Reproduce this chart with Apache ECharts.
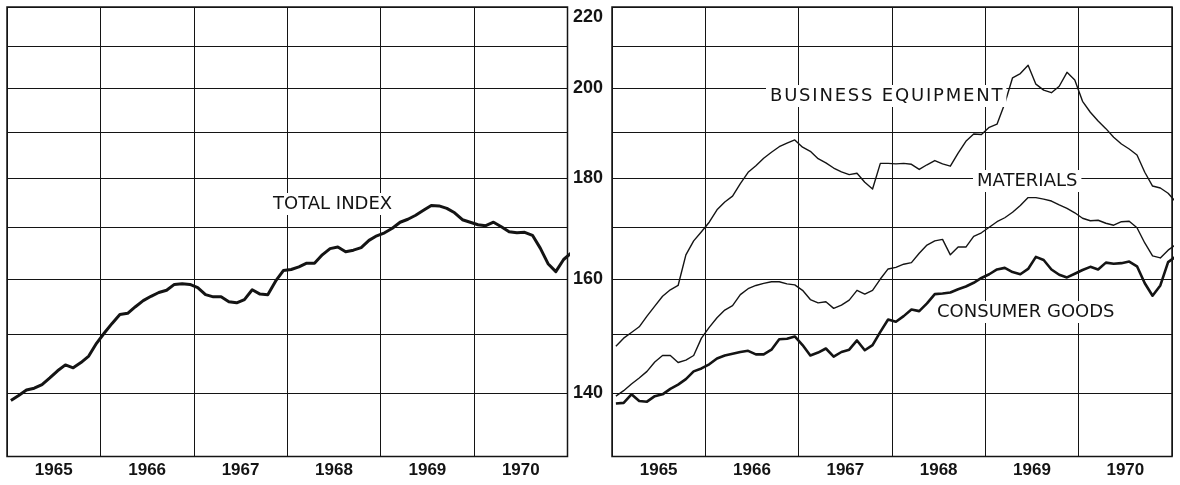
<!DOCTYPE html>
<html>
<head>
<meta charset="utf-8">
<script src="https://cdn.jsdelivr.net/npm/echarts@6/dist/echarts.min.js"></script>
<style>
  html, body { margin: 0; padding: 0; background: #fff; }
  #chart { width: 1180px; height: 485px; }
</style>
</head>
<body>
<div id="chart"></div>
<script>
// monthly index values from Jan 1965, ratio scale
var years = ['1965', '1966', '1967', '1968', '1969', '1970'];
var gridValues = [130, 140, 150, 160, 170, 180, 190, 200, 210, 220];
var scaleLabels = [140, 160, 180, 200, 220];

var totalIndex = [
  138.8, 139.6, 140.5, 140.8, 141.4, 142.5, 143.7, 144.7, 144.2, 145.1, 146.2, 148.4,
  150.2, 151.9, 153.5, 153.7, 154.9, 156.0, 156.8, 157.5, 157.9, 159.0, 159.1, 159.0,
  158.4, 157.1, 156.7, 156.7, 155.8, 155.6, 156.2, 158.0, 157.2, 157.1, 159.6, 161.6,
  161.8, 162.3, 163.0, 163.0, 164.6, 165.8, 166.1, 165.2, 165.5, 166.0, 167.4, 168.3,
  168.9, 169.8, 171.0, 171.6, 172.4, 173.4, 174.4, 174.3, 173.8, 172.9, 171.5, 171.0,
  170.5, 170.3, 171.0, 170.1, 169.1, 168.9, 169.0, 168.4, 165.9, 162.9, 161.4, 163.7,
  165.0, 164.9
];
var businessEquipment = [
  147.9, 149.3, 150.3, 151.3, 153.2, 155.0, 156.8, 158.0, 158.8, 164.6, 167.3, 169.1,
  171.0, 173.5, 175.1, 176.3, 178.9, 181.3, 182.7, 184.3, 185.6, 186.8, 187.6, 188.3,
  186.7, 185.8, 184.2, 183.3, 182.2, 181.4, 180.8, 181.1, 179.2, 177.8, 183.2, 183.2,
  183.1, 183.2, 183.0, 181.9, 182.9, 183.8, 183.1, 182.6, 185.4, 188.0, 189.6, 189.5,
  191.1, 191.8, 196.5, 202.5, 203.5, 205.5, 201.0, 199.6, 199.0, 200.5, 203.8, 202.0,
  197.0, 194.5, 192.5, 190.8, 188.9, 187.4, 186.3, 185.0, 181.3, 178.4, 178.0, 176.9,
  175.1
];
var materials = [
  139.5, 140.4, 141.5, 142.5, 143.6, 145.2, 146.3, 146.3, 145.1, 145.5, 146.3, 149.3,
  151.2, 152.9, 154.3, 155.1, 157.1, 158.2, 158.8, 159.2, 159.5, 159.5, 159.1, 158.9,
  157.9, 156.2, 155.6, 155.8, 154.6, 155.2, 156.1, 157.9, 157.2, 157.9, 160.0, 161.9,
  162.2, 162.8, 163.1, 164.9, 166.5, 167.3, 167.6, 164.6, 166.1, 166.1, 168.2, 168.9,
  170.0, 171.1, 171.9, 173.0, 174.4, 176.0, 176.0, 175.7, 175.3, 174.5, 173.8, 172.9,
  171.8, 171.3, 171.4, 170.8, 170.4, 171.1, 171.2, 169.9, 166.9, 164.4, 164.0, 165.5,
  166.6
];
var consumerGoods = [
  138.3, 138.4, 139.8, 138.7, 138.6, 139.5, 139.8, 140.7, 141.4, 142.3, 143.6, 144.1,
  144.8, 145.8, 146.3, 146.6, 146.9, 147.1, 146.5, 146.5, 147.3, 149.1, 149.2, 149.6,
  148.1, 146.3, 146.8, 147.5, 146.1, 146.9, 147.3, 148.9, 147.2, 148.1, 150.4, 152.6,
  152.2, 153.2, 154.4, 154.1, 155.5, 157.2, 157.3, 157.5, 158.1, 158.6, 159.3, 160.2,
  160.9, 161.8, 162.1, 161.3, 160.9, 161.9, 164.2, 163.6, 161.8, 160.8, 160.3, 161.0,
  161.7, 162.3, 161.8, 163.1, 162.9, 163.0, 163.3, 162.4, 159.2, 156.9, 158.8, 163.2,
  164.3
];

var ink = '#141414';
var numFont = '"Liberation Sans", Arial, sans-serif';
var textFont = '18px "DejaVu Sans", sans-serif';

// month i is plotted at the middle of its month
function monthly(arr) {
  return arr.map(function (v, i) { return [i + 0.5, v]; });
}
function spaced(s) {
  return String(s).split('').join('\u200A');
}

var yearEdges = years.map(function (y, i) { return i * 12; }).concat([years.length * 12]);
var yearMids = years.map(function (y, i) { return i * 12 + 6; });

function makeX(idx) {
  return {
    type: 'value', gridIndex: idx, min: 0, max: 72,
    axisLine: { show: false },
    axisTick: { show: false, customValues: yearEdges },
    splitLine: { show: true, lineStyle: { color: ink, width: 1 } },
    axisLabel: {
      customValues: yearMids, margin: 5,
      color: ink, fontFamily: numFont, fontWeight: 'bold', fontSize: 17,
      formatter: function (v) { return years[Math.round((v - 6) / 12)]; }
    }
  };
}
function makeY(idx, withLabels) {
  return {
    type: 'log', logBase: 10, gridIndex: idx, min: 130, max: 220,
    axisLine: { show: false },
    axisTick: { show: false, customValues: gridValues },
    splitLine: { show: true, lineStyle: { color: ink, width: 1 } },
    axisLabel: {
      show: withLabels, customValues: scaleLabels, margin: 9,
      color: ink, fontFamily: numFont, fontWeight: 'bold', fontSize: 18,
      formatter: function (v) {
        v = Math.round(v);
        return v === 220 ? '{top|' + v + '}' : String(v);
      },
      rich: { top: { padding: [20, 0, 0, 0], color: ink, fontFamily: numFont, fontWeight: 'bold', fontSize: 18 } }
    }
  };
}
function line(name, data, xi, w) {
  return {
    name: name, type: 'line', xAxisIndex: xi, yAxisIndex: xi,
    data: monthly(data), showSymbol: false, symbol: 'none', clip: false,
    lineStyle: { color: ink, width: w, join: 'round' }, z: 5
  };
}
function tag(text, x, y) {
  return {
    type: 'text', x: x, y: y, z: 10,
    style: { text: text, font: textFont, fill: ink, verticalAlign: 'middle',
      backgroundColor: '#fff', padding: [2, 4] }
  };
}

var myChart = echarts.init(document.getElementById('chart'));
var option = {
  backgroundColor: '#fff',
  animation: false,
  grid: [
    { left: 7, top: 7, width: 560.5, height: 449.4, containLabel: false, outerBoundsMode: 'none',
      show: true, borderColor: ink, borderWidth: 1.5, backgroundColor: 'transparent' },
    { left: 612, top: 7, width: 560, height: 449.4, containLabel: false, outerBoundsMode: 'none',
      show: true, borderColor: ink, borderWidth: 1.5, backgroundColor: 'transparent' }
  ],
  xAxis: [makeX(0), makeX(1)],
  yAxis: [makeY(0, false), makeY(1, true)],
  series: [
    line('Total index', totalIndex, 0, 3),
    line('Business equipment', businessEquipment, 1, 1.4),
    line('Materials', materials, 1, 1.4),
    line('Consumer goods', consumerGoods, 1, 2.6)
  ],
  graphic: [
    tag('TOTAL INDEX', 269, 204),
    tag(spaced('BUSINESS EQUIPMENT'), 766, 96),
    tag('MATERIALS', 973, 181),
    tag('CONSUMER GOODS', 933, 312)
  ]
};
myChart.setOption(option);
</script>
</body>
</html>
